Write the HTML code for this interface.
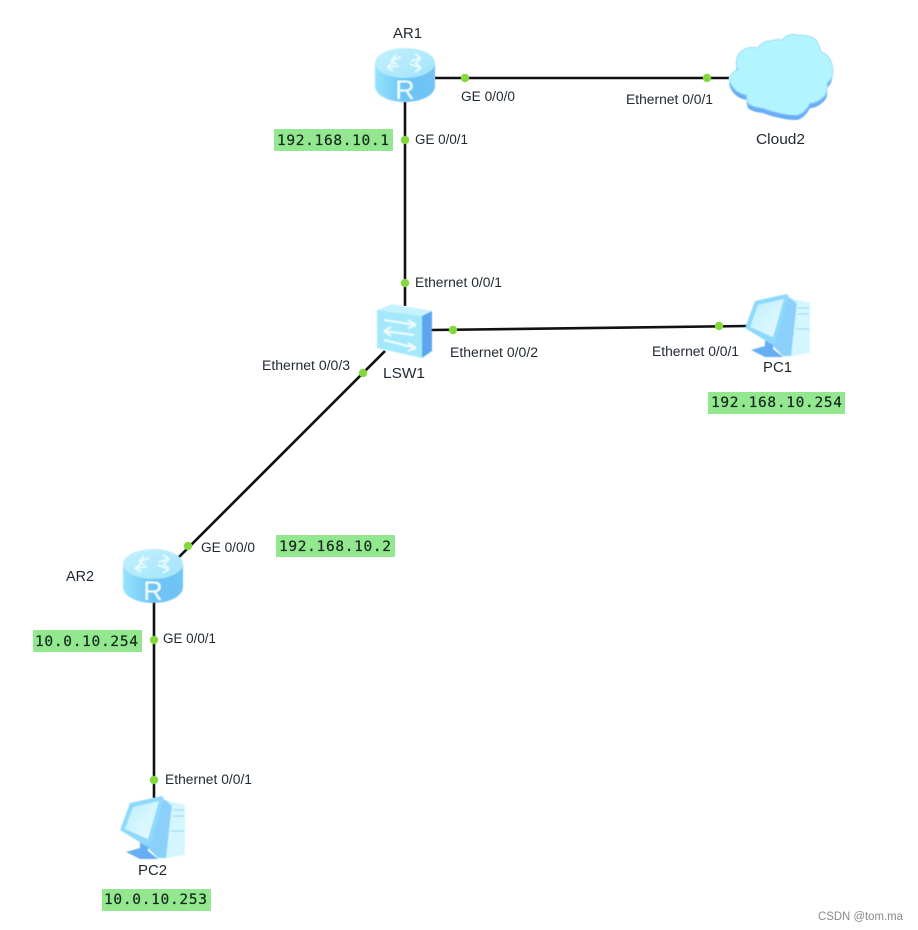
<!DOCTYPE html>
<html><head><meta charset="utf-8"><style>
html,body{margin:0;padding:0;background:#fff}
svg{display:block}
.l{font-family:"Liberation Sans",sans-serif;font-size:13.5px;fill:#1f2830}
.n{font-size:14.5px}
.ip{font-family:"DejaVu Sans Mono","Liberation Mono",monospace;font-size:14.5px;fill:#15291e;stroke:#15291e;stroke-width:.2}
.w{font-family:"Liberation Sans",sans-serif;font-size:11.5px;fill:#8a8a8a}
</style></head><body>
<svg width="918" height="930" viewBox="0 0 918 930" xmlns="http://www.w3.org/2000/svg">
<defs>
<filter id="soft" x="-5%" y="-5%" width="110%" height="110%"><feGaussianBlur stdDeviation="0.45"/></filter>
<linearGradient id="rb" x1="0" x2="1" y1="0" y2="0"><stop offset="0" stop-color="#96e4fc"/><stop offset=".5" stop-color="#6cc4f6"/><stop offset="1" stop-color="#72c4f4"/></linearGradient>
<linearGradient id="rt" x1="0" x2="1" y1="0" y2="1"><stop offset="0" stop-color="#c4f0fd"/><stop offset="1" stop-color="#a0e4fb"/></linearGradient>
<linearGradient id="scr" x1="0" x2="1" y1="0" y2="1"><stop offset="0" stop-color="#bdeefd"/><stop offset="1" stop-color="#eafcff"/></linearGradient>
<g id="router" filter="url(#soft)">
<path d="M0 15 V38 C0 47 13 54 30 54 C47 54 60 47 60 38 V15 Z" fill="url(#rb)"/>
<ellipse cx="30" cy="15" rx="30" ry="15" fill="url(#rt)"/>
<g stroke="#eafcff" stroke-width="1.8" fill="none"><path d="M16 13 L26 9 M16 13 L21 7 M16 13 L22 16"/><path d="M46 10 L36 13 M46 10 L40 6 M46 10 L40 16"/><path d="M12 19 L24 18 M12 19 L18 15 M12 19 L18 23"/><path d="M46 20 L35 16 M46 20 L40 24 M46 20 L41 15"/></g>
<text x="30" y="51" text-anchor="middle" font-family="Liberation Sans,sans-serif" font-size="27" fill="#f0fdff">R</text>
</g>
<g id="pc" filter="url(#soft)">
<path d="M42 3 L53 7 L49 62 L38 62 L24 48 Z" fill="#8ad0fa"/>
<path d="M46 5 L65 9 L52 10 Z" fill="#c4f3fd"/>
<path d="M52 8 L65 9 V59 L46 62 Z" fill="#d4f6fe"/>
<path d="M53 14 H64 M53 20 H64 M51 35 H64" stroke="#8fd4f2" stroke-width="1"/>
<path d="M6 56 L20 52 V44 L28 46 V55 L38 63 H20 Z" fill="#65aef4"/>
<path d="M10 7 L42 0 L44 3 L30 50 L26 50 L0 34 Z" fill="#8ed9fb"/>
<path d="M13 11 L39 5 L28 43 L5 33 Z" fill="url(#scr)"/>
</g>
</defs>
<rect width="918" height="930" fill="#fff"/>
<g stroke="#111" stroke-width="2.6" fill="none">
<path d="M435 78 H729"/>
<path d="M405 102 V306"/>
<path d="M431 330 L747 326"/>
<path d="M385 351 L178 558"/>
<path d="M154 602 V798"/>
</g>
<use href="#router" x="375" y="48"/>
<use href="#router" x="123" y="549"/>
<g filter="url(#soft)">
<path d="M729 84 Q732 76 738 75 Q733 62 743 55 Q750 51 758 53 Q762 44 770 46 Q776 44 782 45 Q788 38 797 40 Q811 40 816 45 Q820 52 821 57 Q830 60 832 70 Q834 82 827 88 Q828 96 825 100 Q818 108 810 108 Q805 118 797 120 Q787 120 780 118 Q770 116 763 113 Q752 112 748 108 Q746 102 747 100 Q733 98 729 84 Z" fill="#67adf7"/>
<path d="M729 79 Q732 71 738 70 Q733 57 743 50 Q750 46 758 48 Q762 41 770 41 Q776 39 782 40 Q788 33 797 35 Q811 35 816 40 Q820 47 821 52 Q830 55 832 65 Q835 77 827 83 Q828 91 825 95 Q818 103 810 103 Q805 113 797 115 Q787 115 780 113 Q770 111 763 108 Q752 107 748 103 Q746 97 747 95 Q733 93 729 79 Z" fill="#b3f5ff" stroke="#9fd8fb" stroke-width="1"/>
</g>
<g filter="url(#soft)">
<path d="M377 310 L392 304 L432 311 L422 316 Z" fill="#c4f2fd"/>
<path d="M377 310 L422 316 V358 L377 348 Z" fill="#a4e9fb"/>
<path d="M422 316 L432 311 V351 L422 358 Z" fill="#5aa6f1"/>
<g stroke="#f2fdff" stroke-width="2" fill="none">
<path d="M384 320 L416 325 M416 325 L408 320 M416 325 L408 328"/>
<path d="M414 335 L384 331 M384 331 L391 327 M384 331 L391 336"/>
<path d="M384 340 L416 348 M416 348 L408 343 M416 348 L408 351"/>
</g>
</g>
<use href="#pc" x="745" y="294"/>
<use href="#pc" x="120" y="796"/>
<g fill="#84d83c">
<circle cx="465" cy="78" r="4.2"/><circle cx="707" cy="78" r="4.2"/><circle cx="405" cy="140" r="4.2"/><circle cx="405" cy="283" r="4.2"/>
<circle cx="453" cy="330" r="4.2"/><circle cx="719" cy="326" r="4.2"/><circle cx="363" cy="373" r="4.2"/><circle cx="188" cy="546" r="4.2"/>
<circle cx="154" cy="640" r="4.2"/><circle cx="154" cy="780" r="4.2"/>
</g>
<g fill="#93e88f">
<rect x="274" y="129" width="119" height="22"/><rect x="708" y="392" width="137" height="22"/><rect x="276" y="535" width="119" height="22"/><rect x="33" y="630" width="109" height="22"/><rect x="102" y="889" width="109" height="22"/>
</g>
<g class="ip">
<text x="277" y="145" textLength="112">192.168.10.1</text>
<text x="711" y="407" textLength="131">192.168.10.254</text>
<text x="279" y="551" textLength="112">192.168.10.2</text>
<text x="35" y="646" textLength="103">10.0.10.254</text>
<text x="104" y="904" textLength="103">10.0.10.253</text>
</g>
<g class="l">
<text class="n" x="393" y="38" textLength="29" lengthAdjust="spacingAndGlyphs">AR1</text>
<text class="n" x="756" y="144" textLength="49" lengthAdjust="spacingAndGlyphs">Cloud2</text>
<text class="n" x="383" y="378" textLength="42" lengthAdjust="spacingAndGlyphs">LSW1</text>
<text class="n" x="763" y="372" textLength="29" lengthAdjust="spacingAndGlyphs">PC1</text>
<text class="n" x="66" y="581" textLength="28" lengthAdjust="spacingAndGlyphs">AR2</text>
<text class="n" x="138" y="875" textLength="29" lengthAdjust="spacingAndGlyphs">PC2</text>
<text x="461" y="101" textLength="54" lengthAdjust="spacingAndGlyphs">GE 0/0/0</text>
<text x="626" y="104" textLength="87" lengthAdjust="spacingAndGlyphs">Ethernet 0/0/1</text>
<text x="415" y="144" textLength="53" lengthAdjust="spacingAndGlyphs">GE 0/0/1</text>
<text x="415" y="287" textLength="87" lengthAdjust="spacingAndGlyphs">Ethernet 0/0/1</text>
<text x="450" y="357" textLength="88" lengthAdjust="spacingAndGlyphs">Ethernet 0/0/2</text>
<text x="652" y="356" textLength="87" lengthAdjust="spacingAndGlyphs">Ethernet 0/0/1</text>
<text x="262" y="370" textLength="88" lengthAdjust="spacingAndGlyphs">Ethernet 0/0/3</text>
<text x="201" y="552" textLength="54" lengthAdjust="spacingAndGlyphs">GE 0/0/0</text>
<text x="163" y="643" textLength="53" lengthAdjust="spacingAndGlyphs">GE 0/0/1</text>
<text x="165" y="784" textLength="87" lengthAdjust="spacingAndGlyphs">Ethernet 0/0/1</text>
</g>
<text class="w" x="818" y="920" textLength="85" lengthAdjust="spacingAndGlyphs">CSDN @tom.ma</text>
</svg>
</body></html>
